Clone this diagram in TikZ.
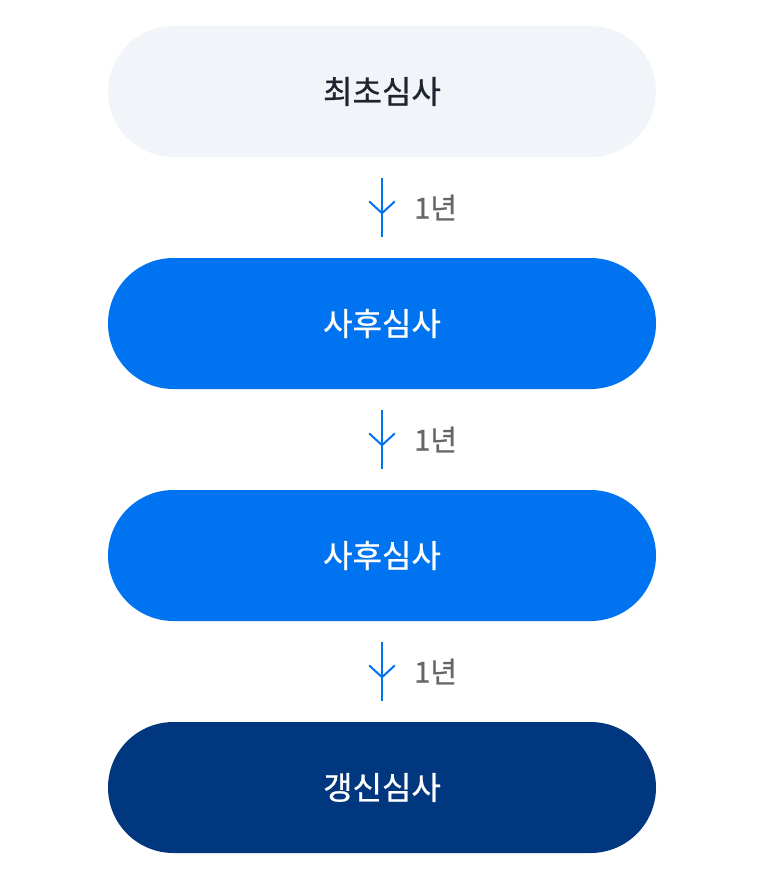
\documentclass[tikz,border=0pt]{standalone}
\usepackage{fontspec}
\setmainfont{Noto Sans CJK KR}
\newfontfamily\kr[FakeBold=0.8]{Noto Sans CJK KR}
\usetikzlibrary{calc}
\definecolor{pilllight}{HTML}{F1F4F9}
\definecolor{pillblue}{HTML}{0073F0}
\definecolor{pillnavy}{HTML}{00377E}
\definecolor{txtdark}{HTML}{1E2530}
\definecolor{txtgray}{HTML}{666666}
\definecolor{arrowblue}{HTML}{0073F0}
\tikzset{
  pill/.style={rounded corners=65.5pt, minimum width=548pt, minimum height=131pt, inner sep=0pt, font=\kr\fontsize{32}{38}\selectfont},
  pillA/.style={pill, fill=pilllight, text=txtdark},
  pillB/.style={pill, fill=pillblue, text=white},
  pillC/.style={pill, fill=pillnavy, text=white},
  stemline/.style={draw=arrowblue, line width=2pt},
  chevron/.style={draw=arrowblue, line width=2pt, line cap=round, line join=round},
  yearlabel/.style={font=\kr\fontsize{29}{34}\selectfont, text=txtgray, anchor=west, inner sep=0pt},
}
\begin{document}
\begin{tikzpicture}[x=1pt,y=-1pt]
\useasboundingbox (0,0) rectangle (764,880);
\node[pillA] (n1) at (382,91.5) {최초심사};
\node[pillB] (n2) at (382,323.5) {사후심사};
\node[pillB] (n3) at (382,555.5) {사후심사};
\node[pillC] (n4) at (382,787.5) {갱신심사};
\foreach \i/\j in {1/2,2/3,3/4}{
  \coordinate (s\i) at ([yshift=-21pt]n\i.south);
  \coordinate (e\i) at ([yshift=21pt]n\j.north);
  \coordinate (t\i) at ([yshift=-56pt]n\i.south);
  \draw[stemline] (s\i) -- (e\i);
  \draw[chevron] ([xshift=-12.5pt,yshift=11.5pt]t\i) -- (t\i) -- ([xshift=12.5pt,yshift=11.5pt]t\i);
  \node[yearlabel] (y\i) at ([xshift=32pt]$(s\i)!0.5!(e\i)$) {1년};
}
\end{tikzpicture}
\end{document}
